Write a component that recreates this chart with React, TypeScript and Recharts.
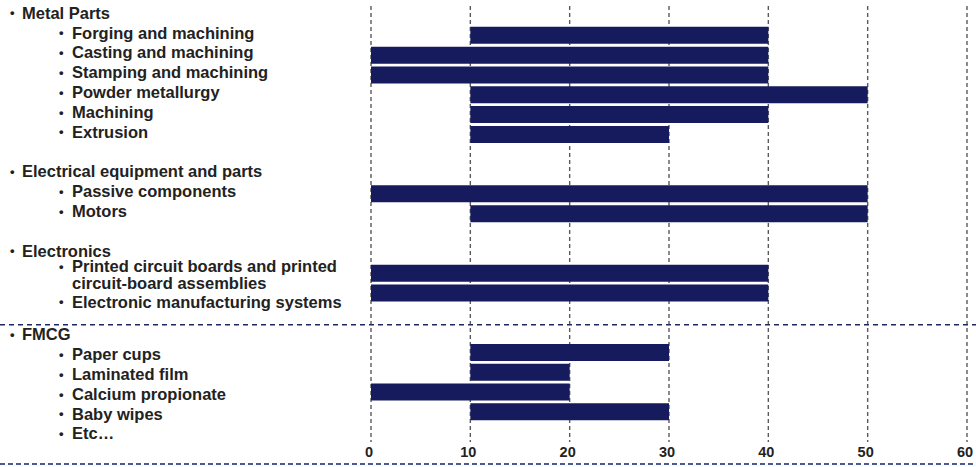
import React from 'react';
import { BarChart, Bar, XAxis, YAxis, CartesianGrid } from 'recharts';

// one row per line of the left-hand list (headers and spacers included)
const rowLabels = [
  'Metal Parts',
  'Forging and machining',
  'Casting and machining',
  'Stamping and machining',
  'Powder metallurgy',
  'Machining',
  'Extrusion',
  '',
  'Electrical equipment and parts',
  'Passive components',
  'Motors',
  '',
  'Electronics',
  'Printed circuit boards and printed|circuit-board assemblies',
  'Electronic manufacturing systems',
  '',
  'FMCG',
  'Paper cups',
  'Laminated film',
  'Calcium propionate',
  'Baby wipes',
  'Etc…',
];

const groupHeaders = ['Metal Parts', 'Electrical equipment and parts', 'Electronics', 'FMCG'];
const dividerBefore = 'FMCG';

const rangeStart = [null, 10, 0, 0, 10, 10, 10, null, null, 0, 10, null, null, 0, 0, null, null, 10, 10, 0, 10, null];
const rangeEnd = [null, 40, 40, 40, 50, 40, 30, null, null, 50, 50, null, null, 40, 40, null, null, 30, 20, 20, 30, null];

const xTicks = [0, 10, 20, 30, 40, 50, 60];

const data = rowLabels.map((label, i) => ({
  row: i,
  label,
  range: rangeStart[i] == null ? null : [rangeStart[i], rangeEnd[i]],
}));

const WIDTH = 976;
const HEIGHT = 467;
const TEXT = '#222222';
const FONT = 'Arial, "Liberation Sans", Helvetica, sans-serif';
const dividerRow = rowLabels.indexOf(dividerBefore);

const RowTick = (props: any) => {
  const { y, payload } = props;
  const idx = payload.value;
  const label = rowLabels[idx] ?? '';
  const isHeader = groupHeaders.includes(label);
  const showDivider = idx === dividerRow - 1;
  const afterTwoLines = (rowLabels[idx - 1] ?? '').includes('|');
  const bulletX = isHeader ? 10 : 59;
  const textX = isHeader ? 22 : 72;
  const lines = label.split('|');
  // text sits a little above the bar centre; lower block sits a bit below
  let ty = idx >= dividerRow ? y + 1.5 : y - 3;
  if (afterTwoLines) ty = y + 8.5;
  return (
    <g>
      {label && (
        <>
          <text x={bulletX} y={lines.length > 1 ? y - 7 : ty} dy="0.35em" fontSize={13} fontWeight={700} fill={TEXT} fontFamily={FONT}>•</text>
          {lines.map((ln, k) => (
            <text
              key={k}
              x={textX}
              y={lines.length > 1 ? y - 7 + k * 17 : ty}
              dy="0.35em"
              fontSize={16.5}
              fontWeight={700}
              fill={TEXT}
              fontFamily={FONT}
            >
              {ln}
            </text>
          ))}
        </>
      )}
      {showDivider && (
        <line x1={0} x2={WIDTH} y1={y + 11.5} y2={y + 11.5} stroke="#1f2761" strokeWidth={1.5} strokeDasharray="5 4" />
      )}
    </g>
  );
};

const XTick = (props: any) => {
  const { x, y, payload } = props;
  return (
    <text x={x - 2} y={y + 2} dy="0.35em" textAnchor="middle" fontSize={14.5} fontWeight={700} fill={TEXT} fontFamily={FONT}>
      {payload.value}
    </text>
  );
};

export default function App() {
  return (
    <div style={{ position: 'relative', width: WIDTH, height: HEIGHT, background: '#fff' }}>
      <style>{'body{margin:0}'}</style>
      <BarChart
        width={WIDTH}
        height={HEIGHT}
        data={data}
        layout="vertical"
        margin={{ top: 6, right: 9, bottom: 0, left: 0 }}
        barSize={17}
      >
        <CartesianGrid horizontal={false} stroke="#5a5a5a" strokeWidth={1.4} strokeDasharray="4 3" />
        <XAxis
          type="number"
          domain={[0, 60]}
          ticks={xTicks}
          axisLine={false}
          tickLine={false}
          tick={<XTick />}
          height={25}
        />
        <YAxis
          type="category"
          dataKey="row"
          width={371}
          axisLine={false}
          tickLine={false}
          interval={0}
          tick={<RowTick />}
        />
        <Bar dataKey="range" fill="#151b5c" isAnimationActive={false} />
      </BarChart>
      <svg width={WIDTH} height={4} style={{ position: 'absolute', left: 0, top: 462 }}>
        <line x1={0} x2={WIDTH} y1={2} y2={2} stroke="#4a5b8f" strokeWidth={2} strokeDasharray="5 3" />
      </svg>
    </div>
  );
}
